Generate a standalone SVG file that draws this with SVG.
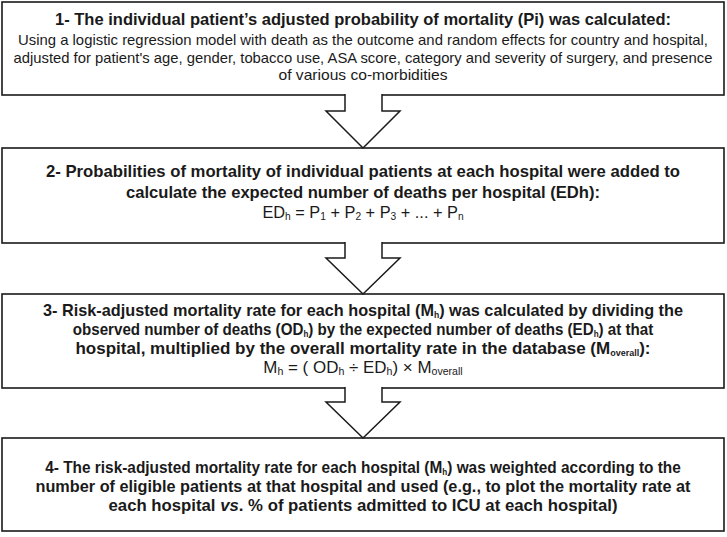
<svg xmlns="http://www.w3.org/2000/svg" width="727" height="537" viewBox="0 0 727 537">
<style>
.box{fill:#fff;stroke:#1a1a1a;stroke-width:1.6}
.arrow{fill:#fff;stroke:#1a1a1a;stroke-width:1.5;stroke-linejoin:miter}
text{font-family:"Liberation Sans",Arial,sans-serif;fill:#1a1a1a;text-anchor:middle}
.t{font-size:17px;font-weight:bold}
.b{font-size:15px}
.f{font-size:16px}
.s{font-size:9px}
.fs{font-size:10px}
</style>
<rect width="727" height="537" fill="#fff"/>
<g id="node1">
<rect class="box" x="2" y="2" width="722" height="93"/>
<text class="t" x="363" y="25" textLength="616" lengthAdjust="spacingAndGlyphs">1- The individual patient’s adjusted probability of mortality (Pi) was calculated:</text>
<text class="b" x="363" y="45" textLength="690" lengthAdjust="spacingAndGlyphs">Using a logistic regression model with death as the outcome and random effects for country and hospital,</text>
<text class="b" x="363" y="63" textLength="699" lengthAdjust="spacingAndGlyphs">adjusted for patient's age, gender, tobacco use, ASA score, category and severity of surgery, and presence</text>
<text class="b" x="363" y="80" textLength="169" lengthAdjust="spacingAndGlyphs">of various co-morbidities</text>
</g>
<g id="node2">
<rect class="box" x="2" y="148" width="722" height="95"/>
<text class="t" x="363" y="177" textLength="634" lengthAdjust="spacingAndGlyphs">2- Probabilities of mortality of individual patients at each hospital were added to</text>
<text class="t" x="363" y="198" textLength="474" lengthAdjust="spacingAndGlyphs">calculate the expected number of deaths per hospital (EDh):</text>
<text class="f" transform="translate(363,218) scale(1.02,1)">ED<tspan class="fs" dy="2">h</tspan><tspan dy="-2"> = P</tspan><tspan class="fs" dy="2">1</tspan><tspan dy="-2"> + P</tspan><tspan class="fs" dy="2">2</tspan><tspan dy="-2"> + P</tspan><tspan class="fs" dy="2">3</tspan><tspan dy="-2"> + ... + P</tspan><tspan class="fs" dy="2">n</tspan></text>
</g>
<g id="node3">
<rect class="box" x="2" y="294" width="722" height="94"/>
<text class="t" transform="translate(363,316) scale(0.956,1)">3- Risk-adjusted mortality rate for each hospital (M<tspan class="s" dy="2">h</tspan><tspan dy="-2">) was calculated by dividing the</tspan></text>
<text class="t" transform="translate(363,335) scale(0.892,1)">observed number of deaths (OD<tspan class="s" dy="2">h</tspan><tspan dy="-2">) by the expected number of deaths (ED</tspan><tspan class="s" dy="2">h</tspan><tspan dy="-2">) at that</tspan></text>
<text class="t" transform="translate(363,354) scale(1.0,1)">hospital, multiplied by the overall mortality rate in the database (M<tspan class="s" dy="2">overall</tspan><tspan dy="-2">):</tspan></text>
<text class="f" transform="translate(363,373) scale(1.06,1)">M<tspan class="fs" dy="2">h</tspan><tspan dy="-2"> = ( OD</tspan><tspan class="fs" dy="2">h</tspan><tspan dy="-2"> ÷ ED</tspan><tspan class="fs" dy="2">h</tspan><tspan dy="-2">) × M</tspan><tspan class="fs" dy="2">overall</tspan></text>
</g>
<g id="node4">
<rect class="box" x="2" y="438" width="722" height="93"/>
<text class="t" transform="translate(363,473) scale(0.906,1)">4- The risk-adjusted mortality rate for each hospital (M<tspan class="s" dy="2">h</tspan><tspan dy="-2">) was weighted according to the</tspan></text>
<text class="t" x="363" y="492" textLength="655" lengthAdjust="spacingAndGlyphs">number of eligible patients at that hospital and used (e.g., to plot the mortality rate at</text>
<text class="t" x="363" y="511" textLength="509" lengthAdjust="spacingAndGlyphs">each hospital <tspan font-style="italic">vs</tspan>. % of patients admitted to ICU at each hospital)</text>
</g>
<g id="connectors">
<path class="arrow" d="M345,94 V111 H326 L363,148 L400,111 H382 V94"/>
<path class="arrow" d="M345,242 V258 H326 L363,294 L400,258 H382 V242"/>
<path class="arrow" d="M345,387 V402 H326 L363,438 L400,402 H382 V387"/>
</g>
</svg>
